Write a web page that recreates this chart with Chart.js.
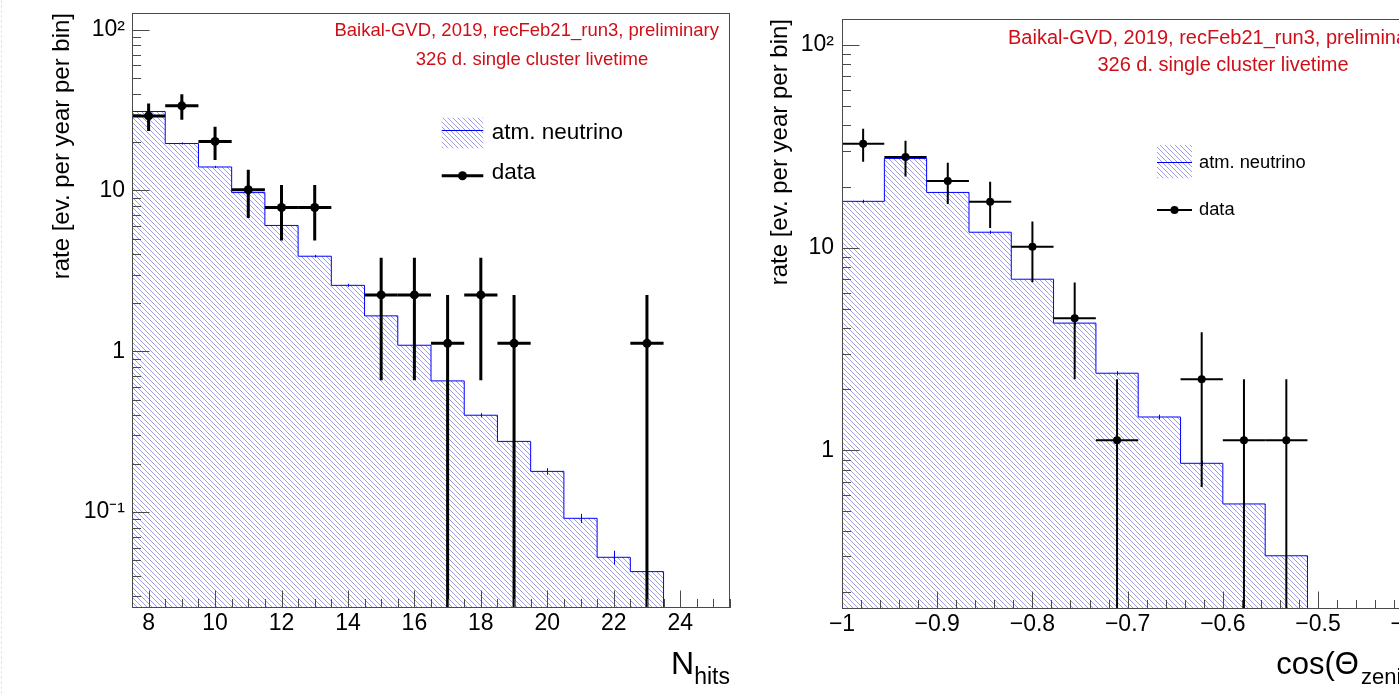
<!DOCTYPE html>
<html><head><meta charset="utf-8">
<script src="https://cdn.jsdelivr.net/npm/chart.js@4.4.1/dist/chart.umd.min.js"></script>
<style>
html,body{margin:0;padding:0;background:#fff;overflow:hidden;width:1399px;height:694px;}
#wrap{position:relative;width:1399px;height:694px;overflow:hidden;background:#fff;}
#c1{position:absolute;left:0;top:0;}
#c2{position:absolute;left:760px;top:0;}
#edge{position:absolute;left:1px;top:0;height:694px;border-left:1px dashed #e4e4e4;}
</style></head><body>
<div id="wrap"><div id="edge"></div>
<canvas id="c1" width="760" height="694"></canvas>
<canvas id="c2" width="700" height="694"></canvas>
</div>
<script>
// ---------------- Left panel: N_hits ----------------
const nhitsBinCenters = [8,9,10,11,12,13,14,15,16,17,18,19,20,21,22,23];
const nhitsBinWidth = 1;
const nhitsMC      = [31.0,19.6,14.0,9.7,6.06,3.9,2.57,1.66,1.09,0.654,0.40,0.275,0.179,0.0914,0.0523,0.0426];
const nhitsMCErr   = [0.45,0.3,0.22,0.16,0.11,0.075,0.055,0.04,0.03,0.02,0.012,0.01,0.0085,0.006,0.0052,0.005];
const nhitsData    = [29.1,33.6,20.2,10.1,7.84,7.84,null,2.24,2.24,1.12,2.24,1.12,null,null,null,1.12];
const nhitsDataErr = [5.7,6.1,4.75,3.36,2.96,2.96,null,1.58,1.58,1.12,1.58,1.12,null,null,null,1.12];
const nhitsXTicks      = [8,10,12,14,16,18,20,22,24];
const nhitsXTickLabels = ['8','10','12','14','16','18','20','22','24'];
const nhitsYTicks      = [0.1,1,10,100];
const nhitsYTickLabels = ['10\u207B\u00B9','1','10','10\u00B2'];

// ---------------- Right panel: cos(zenith) ----------------
const cosBinCenters = [-0.9778,-0.9333,-0.8889,-0.8444,-0.8,-0.7556,-0.7111,-0.6667,-0.6222,-0.5778,-0.5333];
const cosBinWidth = 0.0444;
const cosMC      = [16.9,27.5,18.7,11.9,6.98,4.24,2.40,1.46,0.863,0.544,0.302];
const cosMCErr   = [0.3,0.4,0.3,0.22,0.15,0.1,0.06,0.04,0.025,0.02,0.015];
const cosData    = [32.5,28.0,21.3,16.8,10.1,4.48,1.12,null,2.24,1.12,1.12];
const cosDataErr = [6.0,5.6,4.9,4.3,3.36,2.24,1.12,null,1.58,1.12,1.12];
const cosXTicks      = [-1,-0.9,-0.8,-0.7,-0.6,-0.5,-0.4];
const cosXTickLabels = ['\u22121','\u22120.9','\u22120.8','\u22120.7','\u22120.6','\u22120.5','\u22120.4'];
const cosYTicks      = [1,10,100];
const cosYTickLabels = ['1','10','10\u00B2'];

// ---------------- Texts ----------------
const yTitle = 'rate [ev. per year per bin]';
const note1 = 'Baikal-GVD, 2019, recFeb21_run3, preliminary';
const note2 = '326 d. single cluster livetime';
const mcLabel = 'atm. neutrino';
const dataLabel = 'data';

const FAMILY = "'Liberation Sans', Arial, Helvetica, sans-serif";
Chart.defaults.font.family = FAMILY;
Chart.defaults.color = '#000';

// hatch tile (\\\ lines)
const hatchTile = (function(){
  const s = 10; const c = document.createElement('canvas'); c.width = s; c.height = s;
  const g = c.getContext('2d');
  g.strokeStyle = '#9e9ee8'; g.lineWidth = 1;
  for (let k = -3; k <= 3; k++) {
    const off = k * 5;
    g.beginPath(); g.moveTo(-2, -2 + off); g.lineTo(s + 2, s + 2 + off); g.stroke();
  }
  return c;
})();

function decor(P, hatch) {
  return {
    id: 'decor',
    afterDatasetsDraw(chart) {
      const {ctx, chartArea: a, scales: {x, y}} = chart;
      const half = P.binWidth / 2;
      ctx.save();
      ctx.beginPath(); ctx.rect(a.left, a.top, a.right - a.left, a.bottom - a.top); ctx.clip();
      // MC stat errors
      ctx.strokeStyle = '#0000ff'; ctx.lineWidth = 1;
      P.centers.forEach((c, i) => {
        const v = P.mc[i], e = P.mcErr[i]; if (!e) return;
        const px = Math.round(x.getPixelForValue(c)) + 0.5;
        ctx.beginPath(); ctx.moveTo(px, y.getPixelForValue(v - e)); ctx.lineTo(px, y.getPixelForValue(v + e)); ctx.stroke();
      });
      // data error bars
      ctx.strokeStyle = '#000'; ctx.lineWidth = P.errW;
      P.centers.forEach((c, i) => {
        const v = P.data[i]; if (v == null) return;
        const e = P.dataErr[i];
        const px = x.getPixelForValue(c), py = y.getPixelForValue(v);
        const lo = (v - e) > 1e-6 ? y.getPixelForValue(v - e) : a.bottom;
        ctx.beginPath();
        ctx.moveTo(px, lo); ctx.lineTo(px, y.getPixelForValue(v + e));
        ctx.moveTo(x.getPixelForValue(c - half), py); ctx.lineTo(x.getPixelForValue(c + half), py);
        ctx.stroke();
      });
      ctx.restore();

      // frame + ticks
      ctx.save();
      ctx.strokeStyle = '#4a4a4a'; ctx.lineWidth = 1;
      ctx.strokeRect(a.left + 0.5, a.top + 0.5, a.right - a.left - 1, a.bottom - a.top - 1);
      ctx.beginPath();
      const k0 = Math.floor(Math.log10(y.min)), k1 = Math.ceil(Math.log10(y.max));
      for (let k = k0; k <= k1; k++) for (let m = 1; m <= 9; m++) {
        const v = m * Math.pow(10, k);
        if (v < y.min || v > y.max) continue;
        const py = Math.round(y.getPixelForValue(v)) + 0.5;
        const len = m === 1 ? P.majorLen : P.minorLen;
        ctx.moveTo(a.left, py); ctx.lineTo(a.left + len, py);
      }
      const st = P.xMinorStep;
      for (let k = Math.ceil(x.min / st - 1e-6); k * st <= x.max + 1e-9; k++) {
        const v = k * st;
        const isMaj = P.xTicks.some(t => Math.abs(t - v) < 1e-6);
        const px = Math.round(x.getPixelForValue(v)) + 0.5;
        ctx.moveTo(px, a.bottom); ctx.lineTo(px, a.bottom - (isMaj ? P.majorLen : P.minorLen));
      }
      ctx.stroke();
      ctx.restore();

      // legend
      const L = P.legend, ox = a.left, oy = a.top;
      ctx.save();
      ctx.fillStyle = hatch;
      ctx.fillRect(ox + L.box[0], oy + L.box[1], L.box[2], L.box[3]);
      ctx.strokeStyle = '#0000ff'; ctx.lineWidth = 1;
      ctx.beginPath();
      ctx.moveTo(ox + L.box[0], Math.round(oy + L.mcLineY) + 0.5);
      ctx.lineTo(ox + L.box[0] + L.box[2], Math.round(oy + L.mcLineY) + 0.5);
      ctx.stroke();
      ctx.strokeStyle = '#000'; ctx.lineWidth = P.errW;
      ctx.beginPath();
      ctx.moveTo(ox + L.box[0], oy + L.dataLineY); ctx.lineTo(ox + L.box[0] + L.box[2], oy + L.dataLineY);
      ctx.stroke();
      ctx.fillStyle = '#000';
      ctx.beginPath(); ctx.arc(ox + L.box[0] + L.box[2] / 2, oy + L.dataLineY, P.markerR, 0, Math.PI * 2); ctx.fill();
      ctx.font = L.font + 'px ' + FAMILY;
      ctx.textAlign = 'left'; ctx.textBaseline = 'alphabetic';
      ctx.fillText(chart.data.datasets[0].label, ox + L.textX, oy + L.mcTextY);
      ctx.fillText(chart.data.datasets[1].label, ox + L.textX, oy + L.dataTextY);

      // red notes
      ctx.fillStyle = '#cf0f18';
      ctx.font = P.noteFont + 'px ' + FAMILY;
      P.notes.forEach(n => { ctx.textAlign = n.align; ctx.fillText(n.text, ox + n.x, oy + n.y); });

      // x title with subscript
      ctx.fillStyle = '#000'; ctx.textAlign = 'left';
      let total = 0;
      P.xTitle.forEach(p => { ctx.font = p.size + 'px ' + FAMILY; p.w = ctx.measureText(p.t).width + (p.gap || 0); total += p.w; });
      let cx = a.right - total + (P.xTitleShift || 0);
      P.xTitle.forEach(p => { ctx.font = p.size + 'px ' + FAMILY; ctx.fillText(p.t, cx + (p.gap || 0), a.bottom + P.xTitleY + p.dy); cx += p.w; });
      ctx.restore();
    }
  };
}

function zeroPad(s) { s.paddingTop = 0; s.paddingBottom = 0; s.paddingLeft = 0; s.paddingRight = 0; }

function buildChart(canvasId, P) {
  const ctx = document.getElementById(canvasId).getContext('2d');
  const hatch = ctx.createPattern(hatchTile, 'repeat');
  const half = P.binWidth / 2;
  const histPts = P.centers.map((c, i) => ({x: c - half, y: P.mc[i]}));
  histPts.push({x: P.centers[P.centers.length - 1] + half, y: P.yMin});
  const dataPts = [];
  P.centers.forEach((c, i) => { if (P.data[i] != null) dataPts.push({x: c, y: P.data[i]}); });
  const lab = (vals, labels) => (v) => { const i = vals.findIndex(t => Math.abs(t - v) <= Math.abs(t) * 1e-6 + 1e-9); return i >= 0 ? labels[i] : ''; };
  return new Chart(ctx, {
    type: 'scatter',
    data: { datasets: [
      {type: 'line', label: mcLabel, data: histPts, stepped: 'before', borderColor: '#0000ff', borderWidth: 1,
       backgroundColor: hatch, fill: 'start', pointRadius: 0, order: 2},
      {type: 'scatter', label: dataLabel, data: dataPts, pointRadius: P.markerR, pointBackgroundColor: '#000',
       pointBorderWidth: 0, pointBorderColor: '#000', order: 1}
    ]},
    options: {
      responsive: false, animation: false, events: [],
      layout: {padding: P.padding},
      plugins: {legend: {display: false}, tooltip: {enabled: false}},
      scales: {
        x: {type: 'linear', min: P.xMin, max: P.xMax, bounds: 'data',
            grid: {display: false, drawTicks: false}, border: {display: false},
            afterBuildTicks: s => { s.ticks = P.xTicks.map(v => ({value: v})); },
            ticks: {autoSkip: false, maxRotation: 0, minRotation: 0, padding: P.xTickPad, color: '#000',
                    font: {size: P.tickFont}, callback: lab(P.xTicks, P.xTickLabels)},
            afterFit: s => { s.height = P.xAxisH; zeroPad(s); }},
        y: {type: 'logarithmic', min: P.yMin, max: P.yMax, bounds: 'data',
            grid: {display: false, drawTicks: false}, border: {display: false},
            afterBuildTicks: s => { s.ticks = P.yTicks.filter(v => v >= P.yMin && v <= P.yMax).map(v => ({value: v})); },
            ticks: {autoSkip: false, padding: P.yTickPad, color: '#000', font: {size: P.tickFont},
                    callback: lab(P.yTicks, P.yTickLabels)},
            title: {display: true, text: yTitle, align: 'end', color: '#000', font: {size: 24},
                    padding: {top: P.yTitlePad, bottom: 0}},
            afterFit: s => { s.width = P.yAxisW; zeroPad(s); }}
      }
    },
    plugins: [decor(P, hatch)]
  });
}

buildChart('c1', {
  centers: nhitsBinCenters, binWidth: nhitsBinWidth, mc: nhitsMC, mcErr: nhitsMCErr,
  data: nhitsData, dataErr: nhitsDataErr,
  xTicks: nhitsXTicks, xTickLabels: nhitsXTickLabels, yTicks: nhitsYTicks, yTickLabels: nhitsYTickLabels,
  xMin: 7.5, xMax: 25.5, yMin: 0.0253, yMax: 127, xMinorStep: 0.5,
  padding: {left: 0, top: 13, right: 30, bottom: 0}, yAxisW: 132, xAxisH: 86,
  tickFont: 23, xTickPad: 2, yTickPad: 7, yTitlePad: 47.6,
  majorLen: 17.5, minorLen: 9, markerR: 4.5, errW: 3,
  legend: {font: 22.5, box: [309.7, 104.7, 41.6, 30.6], mcLineY: 117, textX: 359.7, mcTextY: 126,
           dataLineY: 162.7, dataTextY: 166},
  noteFont: 18.5,
  notes: [{text: note1, x: 587, y: 23, align: 'right'}, {text: note2, x: 400, y: 52, align: 'center'}],
  xTitle: [{t: 'N', size: 32, dy: 0}, {t: 'hits', size: 23, dy: 10}], xTitleY: 66
});

buildChart('c2', {
  centers: cosBinCenters, binWidth: cosBinWidth, mc: cosMC, mcErr: cosMCErr,
  data: cosData, dataErr: cosDataErr,
  xTicks: cosXTicks, xTickLabels: cosXTickLabels, yTicks: cosYTicks, yTickLabels: cosYTickLabels,
  xMin: -1, xMax: -0.3845, yMin: 0.165, yMax: 134, xMinorStep: 0.02,
  padding: {left: 0, top: 19, right: 32, bottom: 0}, yAxisW: 82, xAxisH: 85,
  tickFont: 23, xTickPad: 2, yTickPad: 8, yTitlePad: 6.3,
  majorLen: 17.5, minorLen: 9, markerR: 4, errW: 2,
  legend: {font: 18.3, box: [315, 126, 35, 33.3], mcLineY: 142.7, textX: 357, mcTextY: 149,
           dataLineY: 191, dataTextY: 196},
  noteFont: 20,
  notes: [{text: note1, x: 166, y: 25, align: 'left'}, {text: note2, x: 381, y: 52, align: 'center'}],
  xTitle: [{t: 'cos(\u0398', size: 31, dy: 0}, {t: 'zenith', size: 22, dy: 10, gap: 2}, {t: ')', size: 31, dy: 0}],
  xTitleY: 65, xTitleShift: 2
});
</script>
</body></html>
